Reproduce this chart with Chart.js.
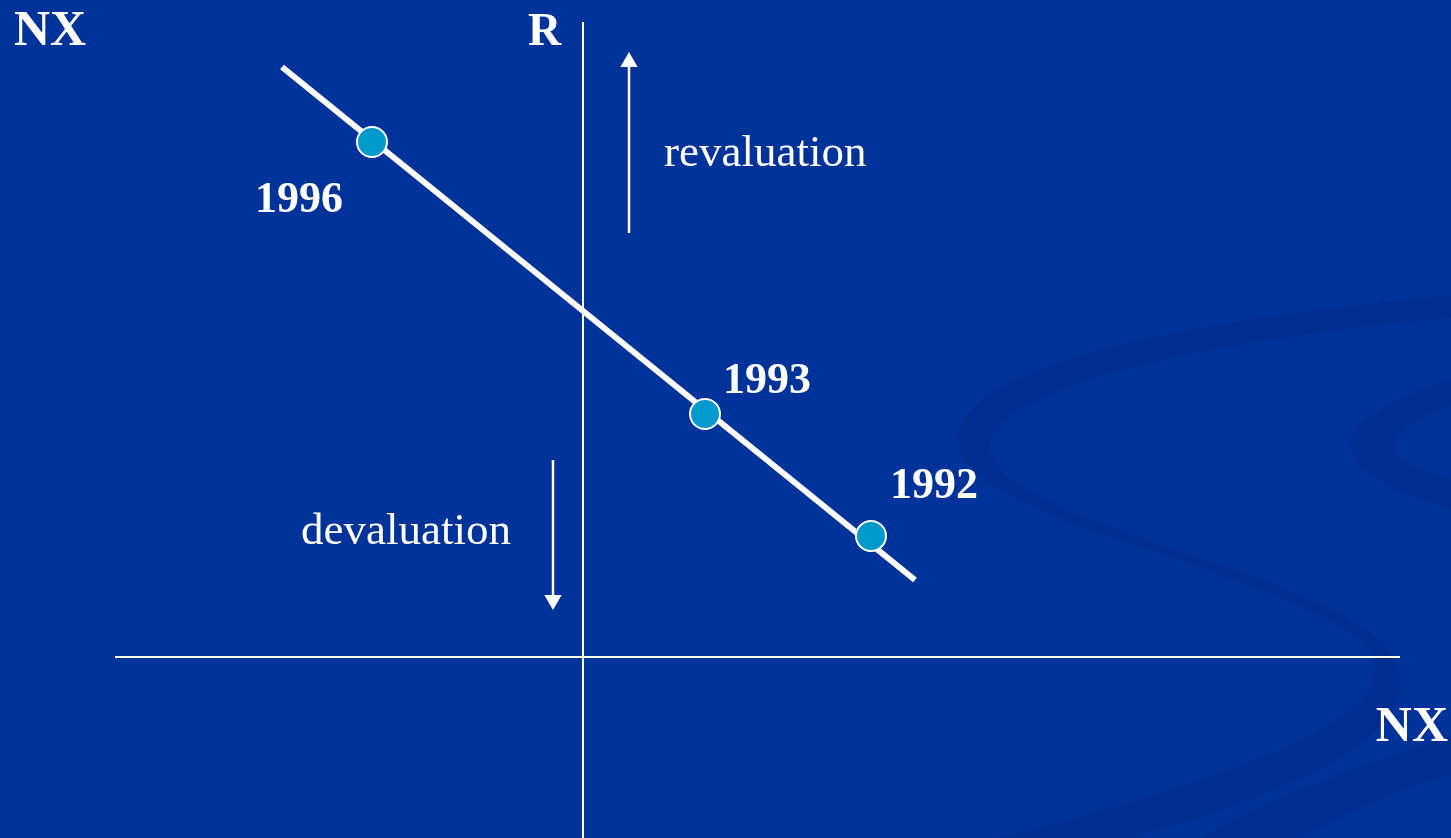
<!DOCTYPE html>
<html>
<head>
<meta charset="utf-8">
<script src="https://cdn.jsdelivr.net/npm/chart.js@4"></script>
<style>
  html, body { margin: 0; padding: 0; background: #003399; overflow: hidden; }
  #wrap { width: 1451px; height: 838px; }
</style>
</head>
<body>
<div id="wrap"><canvas id="nxChart" width="1451" height="838"></canvas></div>
<script>
// years and where they sit on the NX-R line (x = NX, y = R, arbitrary units)
const years = ['1996', '1993', '1992'];
const nxValues = [-4.22, 2.44, 5.76];
const rValues = [10.3, 4.86, 2.42];

// the fitted line, its two ends
const lineNx = [-6.02, 6.64];
const lineR = [11.8, 1.54];

// axes extents
const axisNx = [-9.36, 16.34];
const axisR = [12.7, -3.7];

// arrows: [from, to] in R, at a fixed NX
const upArrowNx = 0.92;
const upArrowR = [8.48, 11.9];
const downArrowNx = -0.6;
const downArrowR = [3.94, 1.14];

const toPts = (xs, ys) => xs.map((x, i) => ({ x: x, y: ys[i] }));

// soft darker swoosh behind the chart (slide decoration)
const swoosh = {
  id: 'swoosh',
  beforeDraw(chart) {
    const ctx = chart.ctx;
    ctx.save();
    ctx.fillStyle = '#003399';
    ctx.fillRect(0, 0, chart.width, chart.height);
    ctx.fillStyle = 'rgba(0, 38, 128, 0.4)';
    // big S band
    ctx.beginPath();
    ctx.moveTo(1451, 295);
    ctx.bezierCurveTo(1200, 320, 960, 360, 958, 440);
    ctx.bezierCurveTo(960, 520, 1250, 560, 1360, 640);
    ctx.bezierCurveTo(1420, 700, 1300, 760, 1000, 838);
    ctx.lineTo(1130, 838);
    ctx.bezierCurveTo(1380, 770, 1440, 700, 1380, 640);
    ctx.bezierCurveTo(1290, 560, 990, 520, 990, 445);
    ctx.bezierCurveTo(1000, 380, 1250, 335, 1451, 318);
    ctx.closePath();
    ctx.fill();
    // small band on the far right
    ctx.beginPath();
    ctx.moveTo(1451, 380);
    ctx.bezierCurveTo(1380, 400, 1345, 430, 1350, 450);
    ctx.bezierCurveTo(1360, 480, 1420, 500, 1451, 510);
    ctx.lineTo(1451, 480);
    ctx.bezierCurveTo(1420, 470, 1390, 460, 1395, 445);
    ctx.bezierCurveTo(1400, 425, 1430, 412, 1451, 405);
    ctx.closePath();
    ctx.fill();
    // lower right band
    ctx.beginPath();
    ctx.moveTo(1451, 735);
    ctx.bezierCurveTo(1350, 770, 1260, 800, 1200, 838);
    ctx.lineTo(1300, 838);
    ctx.bezierCurveTo(1350, 810, 1400, 790, 1451, 775);
    ctx.closePath();
    ctx.fill();
    ctx.restore();
  }
};

// all the text on the slide
const labels = {
  id: 'labels',
  afterDatasetsDraw(chart) {
    const ctx = chart.ctx;
    const xs = chart.scales.x, ys = chart.scales.y;
    ctx.save();
    ctx.fillStyle = '#ffffff';
    ctx.textBaseline = 'alphabetic';

    ctx.font = 'bold 50px "Liberation Serif", "DejaVu Serif", serif';
    ctx.textAlign = 'left';
    ctx.fillText('NX', 14, 45);
    ctx.textAlign = 'right';
    ctx.fillText('NX', 1448, 741);
    ctx.font = 'bold 46px "Liberation Serif", "DejaVu Serif", serif';
    ctx.textAlign = 'left';
    ctx.fillText('R', 528, 45);

    ctx.font = '45px "Liberation Serif", "DejaVu Serif", serif';
    ctx.fillText('revaluation', 664, 166);
    ctx.fillText('devaluation', 301, 544);

    // year tags next to their points
    const offs = [[-117, 70], [18, -21], [19, -38]];
    ctx.font = 'bold 44px "Liberation Serif", "DejaVu Serif", serif';
    years.forEach((yr, i) => {
      const px = xs.getPixelForValue(nxValues[i]);
      const py = ys.getPixelForValue(rValues[i]);
      ctx.fillText(yr, px + offs[i][0], py + offs[i][1]);
    });
    ctx.restore();
  }
};

new Chart(document.getElementById('nxChart'), {
  type: 'scatter',
  data: {
    datasets: [
      {
        // year points (drawn on top)
        data: toPts(nxValues, rValues),
        pointRadius: 15,
        pointBackgroundColor: '#0099CC',
        pointBorderColor: '#ffffff',
        pointBorderWidth: 2,
        showLine: false
      },
      {
        data: toPts(lineNx, lineR),
        showLine: true,
        borderColor: '#ffffff',
        borderWidth: 6,
        pointRadius: 0
      },
      {
        data: toPts([upArrowNx, upArrowNx], upArrowR),
        showLine: true,
        borderColor: '#ffffff',
        borderWidth: 2.5,
        pointStyle: 'triangle',
        pointRadius: [0, 10],
        pointBackgroundColor: '#ffffff',
        pointBorderWidth: 0,
        rotation: 0
      },
      {
        data: toPts([downArrowNx, downArrowNx], downArrowR),
        showLine: true,
        borderColor: '#ffffff',
        borderWidth: 2.5,
        pointStyle: 'triangle',
        pointRadius: [0, 10],
        pointBackgroundColor: '#ffffff',
        pointBorderWidth: 0,
        rotation: 180
      },
      {
        // vertical axis
        data: toPts([0, 0], axisR),
        showLine: true,
        borderColor: '#ffffff',
        borderWidth: 2,
        pointRadius: 0
      },
      {
        // horizontal axis
        data: toPts(axisNx, [0, 0]),
        showLine: true,
        borderColor: '#ffffff',
        borderWidth: 2,
        pointRadius: 0
      }
    ]
  },
  options: {
    responsive: false,
    animation: false,
    layout: { padding: 0, autoPadding: false },
    clip: false,
    plugins: { legend: { display: false }, tooltip: { enabled: false } },
    scales: {
      x: { type: 'linear', min: -583 / 50, max: (1451 - 583) / 50, display: false },
      y: { type: 'linear', min: -(838 - 657) / 50, max: 657 / 50, display: false }
    }
  },
  plugins: [swoosh, labels]
});
</script>
</body>
</html>
